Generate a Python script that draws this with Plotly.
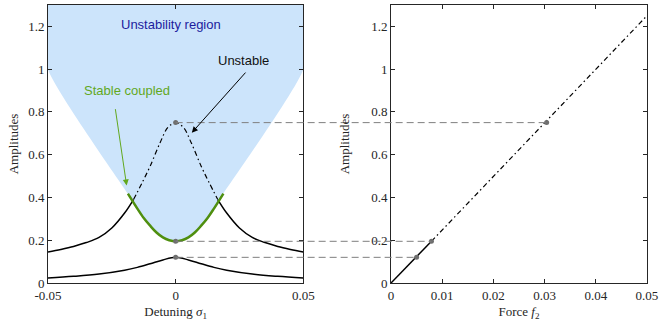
import plotly.graph_objects as go

# ---------------- data ----------------
# Left panel: detuning sigma_1 vs amplitudes
sig_low = [-0.05, -0.04, -0.03, -0.02, -0.015, -0.01, -0.005, 0.0,
           0.005, 0.01, 0.015, 0.02, 0.03, 0.04, 0.05]
amp_low = [0.023, 0.031, 0.042, 0.060, 0.073, 0.090, 0.108, 0.120,
           0.108, 0.090, 0.073, 0.060, 0.042, 0.031, 0.023]

sig_up_left = [-0.05, -0.045, -0.04, -0.035, -0.03, -0.025, -0.02, -0.0165]
amp_up_left = [0.145, 0.157, 0.171, 0.189, 0.213, 0.257, 0.327, 0.390]
sig_up_right = [0.0165, 0.02, 0.025, 0.03, 0.035, 0.04, 0.045, 0.05]
amp_up_right = [0.390, 0.327, 0.257, 0.213, 0.189, 0.171, 0.157, 0.145]

sig_unst = [-0.0165, -0.013, -0.010, -0.0061, -0.003, 0.0, 0.003, 0.0061, 0.010, 0.013, 0.0165]
amp_unst = [0.390, 0.472, 0.546, 0.656, 0.728, 0.750, 0.728, 0.656, 0.546, 0.472, 0.390]

sig_green = [-0.0187, -0.015, -0.0125, -0.01, -0.0075, -0.005, -0.0025, 0.0,
             0.0025, 0.005, 0.0075, 0.01, 0.0125, 0.015, 0.0187]
amp_green = [0.418, 0.348, 0.304, 0.268, 0.236, 0.213, 0.200, 0.195,
             0.200, 0.213, 0.236, 0.268, 0.304, 0.348, 0.418]

# unstability region outline (top corners, side edges)
sig_region_left = [-0.05, -0.05]
amp_region_left = [1.3, 1.0]
sig_region_right = [0.05, 0.05]
amp_region_right = [1.0, 1.3]

# marked points
sig_marks = [0.0, 0.0, 0.0]
amp_marks = [0.750, 0.195, 0.120]

# Right panel: force f2 vs amplitudes
f_solid = [0.0, 0.0079]
a_solid = [0.0, 0.195]
f_dash = [0.0079, 0.05]
a_dash = [0.195, 1.25]
f_marks = [0.0304, 0.0079, 0.0050]

left_ticks = [-0.05, 0, 0.05]
left_ticklabels = ["-0.05", "0", "0.05"]
right_ticks = [0, 0.01, 0.02, 0.03, 0.04, 0.05]
right_ticklabels = ["0", "0.01", "0.02", "0.03", "0.04", "0.05"]
y_ticks = [0, 0.2, 0.4, 0.6, 0.8, 1.0, 1.2]
y_ticklabels = ["0", "0.2", "0.4", "0.6", "0.8", "1", "1.2"]

# ---------------- layout geometry ----------------
XR1 = [-0.05, 0.05]
XR2 = [0.0, 0.05]
YR = [0.0, 1.3]
DOM1 = [0.0, 0.4262]
DOM2 = [0.5726, 1.0]

def paper_x(v, rng, dom):
    return dom[0] + (v - rng[0]) / (rng[1] - rng[0]) * (dom[1] - dom[0])

BLACK = "#000000"
GREEN = "#4f8f0f"
GREEN_TXT = "#62a81e"
SHADE = "#cce4fb"
GRAY = "#7f7f7f"
DASHDOT = "5px,3px,1.5px,3px"

fig = go.Figure()

# shaded unstability region
reg_x = sig_region_left + sig_green + sig_region_right
reg_y = amp_region_left + amp_green + amp_region_right
fig.add_trace(go.Scatter(x=reg_x, y=reg_y, mode="lines", fill="toself",
                         fillcolor=SHADE, line=dict(width=0, color=SHADE, shape="spline", smoothing=0.5),
                         xaxis="x", yaxis="y", hoverinfo="skip", showlegend=False))

# gray dashed connector lines (shapes in paper x, data y)
for sx, fx, a in zip(sig_marks, f_marks, amp_marks):
    fig.add_shape(type="line", xref="paper", yref="y",
                  x0=paper_x(sx, XR1, DOM1), x1=paper_x(fx, XR2, DOM2), y0=a, y1=a,
                  line=dict(color=GRAY, width=1, dash="7px,4px"), layer="above")

# left panel curves
fig.add_trace(go.Scatter(x=sig_low, y=amp_low, mode="lines", line=dict(color=BLACK, width=1.5, shape="spline"),
                         xaxis="x", yaxis="y", showlegend=False))
fig.add_trace(go.Scatter(x=sig_up_left, y=amp_up_left, mode="lines", line=dict(color=BLACK, width=1.5, shape="spline"),
                         xaxis="x", yaxis="y", showlegend=False))
fig.add_trace(go.Scatter(x=sig_up_right, y=amp_up_right, mode="lines", line=dict(color=BLACK, width=1.5, shape="spline"),
                         xaxis="x", yaxis="y", showlegend=False))
fig.add_trace(go.Scatter(x=sig_unst, y=amp_unst, mode="lines",
                         line=dict(color=BLACK, width=1.2, dash=DASHDOT, shape="spline"),
                         xaxis="x", yaxis="y", showlegend=False))
fig.add_trace(go.Scatter(x=sig_green, y=amp_green, mode="lines", line=dict(color=GREEN, width=2.5, shape="spline"),
                         xaxis="x", yaxis="y", showlegend=False))
fig.add_trace(go.Scatter(x=sig_marks, y=amp_marks, mode="markers", marker=dict(color="#6e6e6e", size=5),
                         xaxis="x", yaxis="y", showlegend=False))

# right panel curves
fig.add_trace(go.Scatter(x=f_solid, y=a_solid, mode="lines", line=dict(color=BLACK, width=1.5),
                         xaxis="x2", yaxis="y2", showlegend=False))
fig.add_trace(go.Scatter(x=f_dash, y=a_dash, mode="lines", line=dict(color=BLACK, width=1.2, dash=DASHDOT),
                         xaxis="x2", yaxis="y2", showlegend=False))
fig.add_trace(go.Scatter(x=f_marks, y=amp_marks, mode="markers", marker=dict(color="#6e6e6e", size=5),
                         xaxis="x2", yaxis="y2", showlegend=False))

SERIF = "Liberation Serif, Times New Roman, serif"
SANS = "Liberation Sans, Arial, Helvetica, sans-serif"
axis_common = dict(showline=True, linecolor="#262626", linewidth=1, mirror="ticks",
                   ticks="inside", ticklen=4, tickcolor="#262626", showgrid=False, zeroline=False,
                   tickfont=dict(family=SERIF, size=13, color="#262626"))
title_font = dict(family=SERIF, size=13, color="#262626")

fig.update_layout(
    width=660, height=321,
    margin=dict(l=48, r=13, t=5, b=38, autoexpand=False),
    plot_bgcolor="white", paper_bgcolor="white",
    showlegend=False,
    xaxis=dict(domain=DOM1, range=XR1, tickvals=left_ticks, ticktext=left_ticklabels,
               title=dict(text="Detuning <i>σ</i><sub>1</sub>", standoff=9, font=title_font),
               anchor="y", automargin=False, **axis_common),
    yaxis=dict(domain=[0, 1], range=YR, tickvals=y_ticks, ticktext=y_ticklabels,
               title=dict(text="Amplitudes", standoff=6, font=title_font),
               anchor="x", automargin=False, **axis_common),
    xaxis2=dict(domain=DOM2, range=XR2, tickvals=right_ticks, ticktext=right_ticklabels,
                title=dict(text="Force <i>f</i><sub>2</sub>", standoff=9, font=title_font),
                anchor="y2", automargin=False, **axis_common),
    yaxis2=dict(domain=[0, 1], range=YR, tickvals=y_ticks, ticktext=y_ticklabels,
                title=dict(text="Amplitudes", standoff=18, font=title_font),
                anchor="x2", automargin=False, **axis_common),
)

fig.add_annotation(x=-0.0019, y=1.21, xref="x", yref="y", text="Unstability region", showarrow=False,
                   font=dict(family=SANS, size=13, color="#1c1c9e"))
fig.add_annotation(x=0.0264, y=1.041, xref="x", yref="y", text="Unstable", showarrow=False,
                   font=dict(family=SANS, size=13, color="#111111"))
fig.add_annotation(x=0.00634, y=0.703, ax=0.0279, ay=0.991, xref="x", yref="y", axref="x", ayref="y",
                   text="", showarrow=True, arrowhead=2, arrowsize=1.2, arrowwidth=1, arrowcolor="#000000")
fig.add_annotation(x=-0.019, y=0.902, xref="x", yref="y", text="Stable coupled", showarrow=False,
                   font=dict(family=SANS, size=13, color=GREEN_TXT))
fig.add_annotation(x=-0.0192, y=0.456, ax=-0.0237, ay=0.82, xref="x", yref="y", axref="x", ayref="y",
                   text="", showarrow=True, arrowhead=2, arrowsize=1.2, arrowwidth=1, arrowcolor=GREEN_TXT)

fig.write_html("out.html", config={"displayModeBar": False},
               post_script="document.body.style.margin='0';document.body.style.padding='0';document.body.style.overflow='hidden';")
